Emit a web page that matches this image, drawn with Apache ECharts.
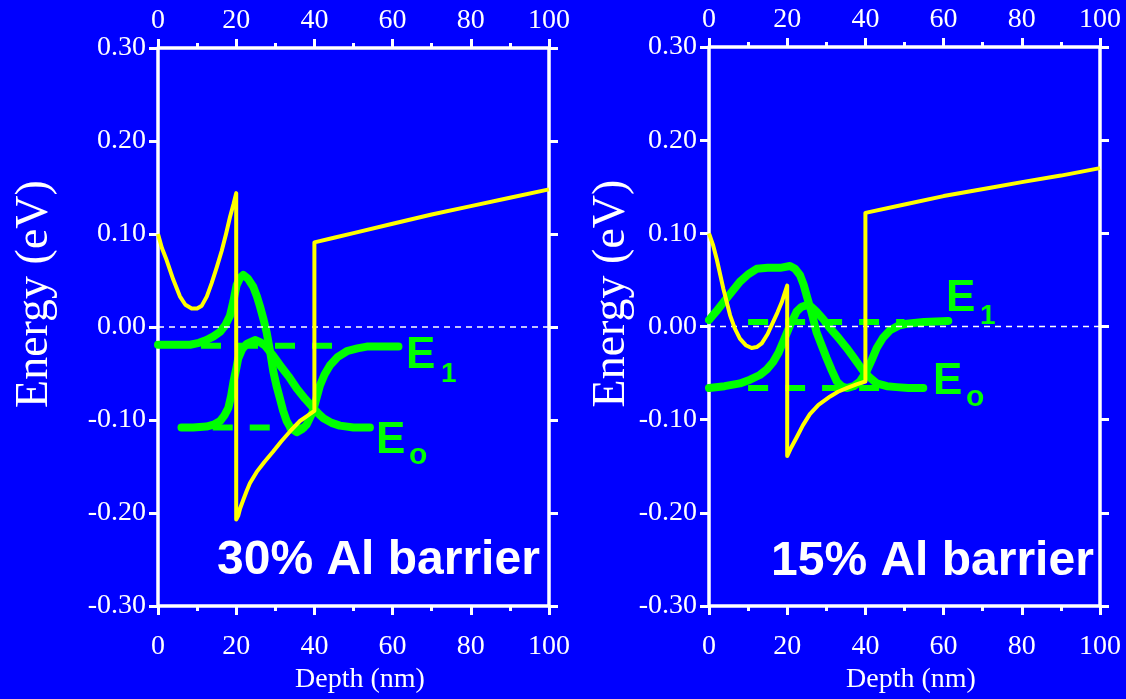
<!DOCTYPE html>
<html><head><meta charset="utf-8">
<script src="https://cdn.jsdelivr.net/npm/echarts@6/dist/echarts.min.js"></script>
<style>html,body{margin:0;padding:0;background:#0000ff;}#c{width:1126px;height:699px;}</style>
</head><body><div id="c"></div>
<script>
// ---------- data (Depth nm, Energy eV) ----------
const xTicks = [0, 20, 40, 60, 80, 100];
const yTicks = [-0.30, -0.20, -0.10, 0.00, 0.10, 0.20, 0.30];
const panelTitles = ['30% Al barrier', '15% Al barrier'];

// 30% Al barrier panel
const cb30 = [[0,0.100],[1,0.085],[2.2,0.072],[3.9,0.051],[5.6,0.033],[7,0.024],[8.6,0.020],[10,0.020],[11.2,0.023],[12.5,0.033],[13.7,0.047],[15,0.064],[16.3,0.082],[17.4,0.100],[18.4,0.118],[19.3,0.132],[20,0.144],
  [20,-0.207],[20.5,-0.203],[21,-0.195],[21.8,-0.186],[22.6,-0.177],[23.5,-0.168],[25.2,-0.156],[27.2,-0.145],[29.4,-0.134],[31.5,-0.123],[33.8,-0.112],[36.3,-0.101],[38,-0.096],[40,-0.090],
  [40,0.091],[45,0.096],[50,0.101],[60,0.111],[70,0.121],[80,0.130],[90,0.139],[100,0.148]];
const psi1_30 = [[0,-0.019],[4,-0.019],[8.2,-0.019],[10.5,-0.017],[12.4,-0.014],[14.2,-0.010],[15.9,-0.005],[17.2,0.002],[18.4,0.012],[19.3,0.028],[20.1,0.045],[21,0.053],[21.8,0.056],[23,0.052],[24.4,0.043],[25.3,0.033],[26.1,0.022],[27,0.008],[27.8,-0.006],[28.7,-0.027],[29.5,-0.048],[30.3,-0.063],[31.2,-0.077],[32,-0.090],[32.9,-0.101],[34,-0.109],[35.5,-0.113],[36.8,-0.110],[38,-0.105],[39.6,-0.091],[40.5,-0.077],[41.4,-0.063],[42.6,-0.051],[44,-0.041],[46,-0.032],[48.3,-0.026],[51,-0.023],[53.4,-0.021],[57,-0.021],[61.5,-0.021]];
const psi0_30 = [[6,-0.108],[9,-0.108],[12.4,-0.107],[14.2,-0.105],[15.9,-0.101],[17,-0.095],[18,-0.087],[18.7,-0.074],[19.3,-0.059],[20,-0.045],[20.5,-0.034],[21.5,-0.024],[22.7,-0.018],[24.8,-0.014],[26,-0.016],[27.4,-0.020],[29.3,-0.030],[31.2,-0.041],[33.4,-0.053],[35.5,-0.066],[37.6,-0.077],[39.7,-0.087],[41,-0.093],[42.3,-0.098],[44.4,-0.103],[46.5,-0.106],[50,-0.108],[54.2,-0.108]];
const lev1_30 = [[11,-0.020],[45,-0.020]];
const lev0_30 = [[14,-0.108],[40,-0.108]];

// 15% Al barrier panel
const cb15 = [[0,0.100],[1,0.088],[2,0.072],[3.7,0.040],[5.4,0.012],[6.6,-0.002],[7.9,-0.013],[9.4,-0.020],[10.9,-0.023],[12.2,-0.022],[13.5,-0.018],[15,-0.008],[16.4,0.005],[17.5,0.015],[18.6,0.026],[19.3,0.035],[20,0.044],
  [20,-0.139],[21,-0.130],[22.4,-0.119],[24,-0.106],[25.8,-0.094],[28,-0.084],[31,-0.075],[33,-0.070],[35.2,-0.066],[37.7,-0.062],[40,-0.059],
  [40,0.122],[50,0.131],[60,0.140],[72,0.149],[80,0.155],[90,0.162],[100,0.170]];
const psi1_15 = [[0,0.007],[1.8,0.016],[3.7,0.026],[5.8,0.037],[7.9,0.048],[10,0.056],[12.2,0.062],[15,0.063],[18.2,0.063],[20.7,0.065],[22,0.062],[23.3,0.055],[24.2,0.045],[25,0.033],[26.3,0.014],[27.5,-0.006],[28.8,-0.020],[30.1,-0.034],[31.4,-0.047],[32.7,-0.059],[33.9,-0.064],[35.2,-0.066],[37,-0.064],[38.6,-0.059],[40.3,-0.048],[41.6,-0.036],[42.9,-0.023],[44.5,-0.012],[46.3,-0.004],[48.5,0.001],[50.6,0.003],[55,0.005],[61.2,0.006]];
const psi0_15 = [[0,-0.066],[4,-0.064],[7.9,-0.061],[10.5,-0.057],[13,-0.052],[14.8,-0.046],[16.4,-0.038],[17.8,-0.028],[19,-0.016],[20.7,0.001],[22.4,0.016],[23.6,0.021],[25,0.023],[26.2,0.021],[27.5,0.016],[29.2,0.008],[31,-0.002],[33.1,-0.012],[35.2,-0.023],[37.3,-0.035],[39.5,-0.048],[41.2,-0.055],[42.9,-0.061],[45.5,-0.064],[48,-0.065],[51,-0.066],[54.8,-0.066]];
const lev1_15 = [[10,0.005],[50,0.005]];
const lev0_15 = [[10,-0.066],[45,-0.066]];

const zeroLine = [[0,0],[100,0]];

// ---------- styling ----------
const WHITE = '#ffffff', YEL = '#ffff00', GRN = '#00ff00';
const SERIF = '"Liberation Serif","DejaVu Serif",serif';
const SANS = '"Liberation Sans","DejaVu Sans",sans-serif';

function xAx(grid, pos, withName) {
  return {
    type: 'value', gridIndex: grid, position: pos,
    min: xTicks[0], max: xTicks[xTicks.length - 1], interval: xTicks[1] - xTicks[0],
    axisLine: { show: true, onZero: false, lineStyle: { color: WHITE, width: 3.5 } },
    axisTick: { show: true, inside: false, length: 9, lineStyle: { color: WHITE, width: 3 } },
    minorTick: { show: true, splitNumber: 2, length: 5, lineStyle: { color: WHITE, width: 3 } },
    splitLine: { show: false }, minorSplitLine: { show: false },
    axisLabel: { show: true, color: WHITE, fontFamily: SERIF, fontSize: 28, margin: pos === 'top' ? 13 : 27 },
    name: withName ? 'Depth (nm)' : '', nameLocation: 'middle', nameGap: 57,
    nameTextStyle: { color: WHITE, fontFamily: SERIF, fontSize: 28, padding: [0, 0, 0, 13] }
  };
}
function yAx(grid, pos, gap) {
  const left = pos === 'left';
  return {
    type: 'value', gridIndex: grid, position: pos,
    min: yTicks[0], max: yTicks[yTicks.length - 1], interval: 0.1,
    axisLine: { show: true, onZero: false, lineStyle: { color: WHITE, width: 3.5 } },
    axisTick: { show: true, inside: false, length: 9, lineStyle: { color: WHITE, width: 3 } },
    splitLine: { show: false },
    axisLabel: { show: left, color: WHITE, fontFamily: SERIF, fontSize: 28, margin: 12,
      formatter: v => { const r = Math.round(v * 100) / 100; return (Math.abs(r) < 1e-9 ? 0 : r).toFixed(2); } },
    name: left ? 'Energy (eV)' : '', nameLocation: 'middle', nameGap: gap || 100, nameRotate: 90,
    nameTextStyle: { color: WHITE, fontFamily: SERIF, fontSize: 46, padding: [0, 0, 0, 66] }
  };
}
function panelSeries(xi, yi, cb, p1, p0, l1, l0) {
  const base = { type: 'line', xAxisIndex: xi, yAxisIndex: yi, showSymbol: false, symbol: 'none', silent: true, animation: false };
  return [
    Object.assign({}, base, { data: l1, z: 2, lineStyle: { color: GRN, width: 6, type: [20, 17], cap: 'butt' } }),
    Object.assign({}, base, { data: l0, z: 2, lineStyle: { color: GRN, width: 6, type: [20, 17], cap: 'butt' } }),
    Object.assign({}, base, { data: p1, z: 3, lineStyle: { color: GRN, width: 8, cap: 'round', join: 'round' } }),
    Object.assign({}, base, { data: p0, z: 3, lineStyle: { color: GRN, width: 8, cap: 'round', join: 'round' } }),
    Object.assign({}, base, { data: zeroLine, z: 4, lineStyle: { color: WHITE, width: 1.5, type: [6, 5] } }),
    Object.assign({}, base, { data: cb, z: 5, lineStyle: { color: YEL, width: 4, join: 'round' } })
  ];
}
function txt(x, y, s, size, color, bold, align) {
  return { type: 'text', x: x, y: y, silent: true, z: 10,
    style: { text: s, fill: color, font: (bold ? 'bold ' : '') + size + 'px ' + SANS, textAlign: align || 'left', textVerticalAlign: 'middle' } };
}

const chart = echarts.init(document.getElementById('c'), null, { renderer: 'canvas' });
chart.setOption({
  backgroundColor: '#0000ff',
  animation: false,
  grid: [
    { left: 158, top: 48, width: 391, height: 566, show: false },
    { left: 709, top: 47, width: 391, height: 564, show: false }
  ],
  xAxis: [xAx(0, 'bottom', true), xAx(0, 'top', false), xAx(1, 'bottom', true), xAx(1, 'top', false)],
  yAxis: [yAx(0, 'left', 100), yAx(0, 'right'), yAx(1, 'left', 68), yAx(1, 'right')],
  series: [].concat(
    panelSeries(0, 0, cb30, psi1_30, psi0_30, lev1_30, lev0_30),
    panelSeries(2, 2, cb15, psi1_15, psi0_15, lev1_15, lev0_15)
  ),
  graphic: [
    txt(217, 561, panelTitles[0], 48, WHITE, true),
    txt(771, 562, panelTitles[1], 48, WHITE, true),
    txt(406, 356, 'E', 44, GRN, true), txt(441, 374, '1', 28, GRN, true),
    txt(376, 441, 'E', 44, GRN, true), txt(409, 456, 'o', 30, GRN, true),
    txt(946, 299, 'E', 44, GRN, true), txt(980, 316, '1', 28, GRN, true),
    txt(933, 382, 'E', 44, GRN, true), txt(966, 398, 'o', 30, GRN, true)
  ]
});
</script>
</body></html>
